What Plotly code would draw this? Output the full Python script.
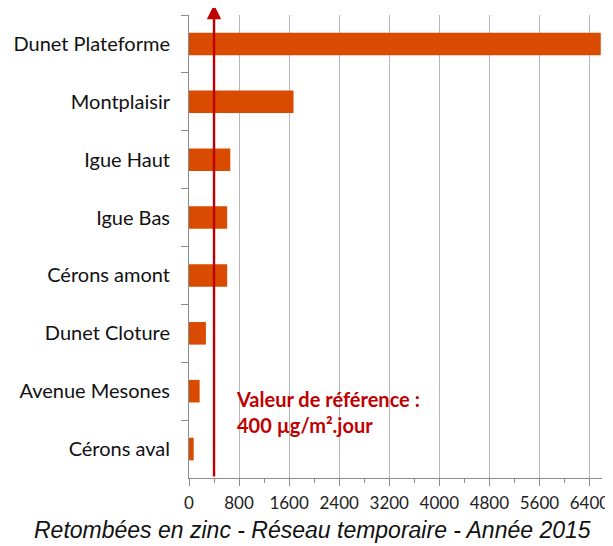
import plotly.graph_objects as go

categories = ["Dunet Plateforme", "Montplaisir", "Igue Haut", "Igue Bas",
              "Cérons amont", "Dunet Cloture", "Avenue Mesones", "Cérons aval"]
values = [6580, 1670, 660, 610, 610, 270, 170, 75]
x_ticks = [0, 800, 1600, 2400, 3200, 4000, 4800, 5600, 6400]
reference_value = 400
title_text = "Retombées en zinc - Réseau temporaire - Année 2015"
ref_label = "Valeur de référence :<br>400 µg/m².jour"

BAR = "#D84B00"
RED = "#C00000"
GRID = "#B7B7B7"
AXIS = "#8C8C8C"

fig = go.Figure()
fig.add_trace(go.Bar(
    y=categories, x=values, orientation="h",
    marker=dict(color=BAR, line=dict(width=0)),
    width=0.39, showlegend=False,
))

# the page body has an 8px margin, so the figure is sized/offset to compensate
fig.update_layout(
    width=605, height=538,
    margin=dict(l=181, r=11, t=7, b=68, autoexpand=False),
    paper_bgcolor="white", plot_bgcolor="white",
    font=dict(family="Lato, Open Sans, sans-serif", color="#111111"),
    xaxis=dict(
        range=[0, 6600], tickvals=x_ticks, ticktext=[str(v) for v in x_ticks],
        showgrid=True, gridcolor=GRID, gridwidth=1,
        showline=True, linecolor=AXIS, linewidth=1,
        ticks="outside", ticklen=7, tickcolor=AXIS,
        minor=dict(dtick=400, tick0=0, ticks="outside", ticklen=4, tickcolor=AXIS, showgrid=False),
        tickfont=dict(size=17, color="#222222", family="Lato, sans-serif"),
        zeroline=False, automargin=False, ticklabelstandoff=3,
    ),
    yaxis=dict(
        categoryorder="array", categoryarray=categories, autorange="reversed",
        showline=True, linecolor=AXIS, linewidth=1,
        ticks="outside", ticklen=7, tickcolor=AXIS, tickson="boundaries",
        tickfont=dict(size=20, color="#111111", family="Lato, sans-serif"),
        showgrid=False, ticklabelstandoff=14, automargin=False,
    ),
)

# Reference arrow
fig.add_annotation(
    x=reference_value, y=1.022, xref="x", yref="y domain",
    ax=reference_value, ay=0, axref="x", ayref="y domain",
    showarrow=True, arrowhead=2, arrowsize=1.2, arrowwidth=2.4, arrowcolor=RED,
    text="",
)
fig.add_annotation(
    x=727, y=0.1425, xref="x", yref="paper", xanchor="left", yanchor="middle",
    text=ref_label, showarrow=False, align="left",
    font=dict(size=20, color=RED, family="Lato, sans-serif", weight="bold"),
)
fig.add_annotation(
    x=0.298, y=-0.112, xref="paper", yref="paper", xanchor="center", yanchor="middle",
    text=title_text, showarrow=False,
    font=dict(size=23, color="#111111", family="Liberation Sans, Arial, sans-serif", style="italic"),
)

fig.write_html("out.html")
